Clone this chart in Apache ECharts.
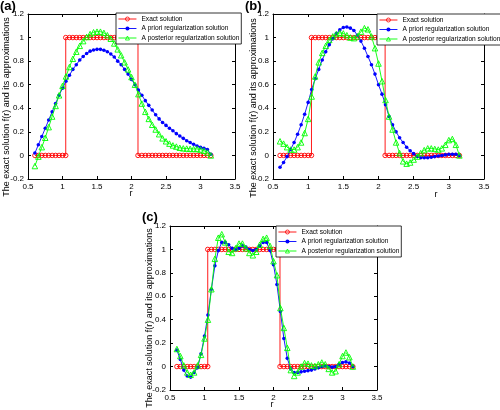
<!DOCTYPE html>
<html>
<head>
<meta charset="utf-8">
<script src="https://cdn.jsdelivr.net/npm/echarts/dist/echarts.min.js"></script>
<style>
html,body{margin:0;padding:0;background:#fff;}
#chart{width:500px;height:410px;}
</style>
</head>
<body>
<div id="chart"></div>
<script>
// ---------- data ----------
const r = [0.60,0.65,0.70,0.75,0.80,0.85,0.90,0.95,1.00,1.05,
           1.10,1.15,1.20,1.25,1.30,1.35,1.40,1.45,1.50,1.55,
           1.60,1.65,1.70,1.75,1.80,1.85,1.90,1.95,2.00,2.05,
           2.10,2.15,2.20,2.25,2.30,2.35,2.40,2.45,2.50,2.55,
           2.60,2.65,2.70,2.75,2.80,2.85,2.90,2.95,3.00,3.05,
           3.10,3.15];

const exactR = [0.60,0.65,0.70,0.75,0.80,0.85,0.90,0.95,1.00,1.047,
                1.047,1.10,1.15,1.20,1.25,1.30,1.35,1.40,1.45,1.50,1.55,
                1.60,1.65,1.70,1.75,1.80,1.85,1.90,1.95,2.00,2.05,2.094,
                2.094,2.15,2.20,2.25,2.30,2.35,2.40,2.45,2.50,2.55,
                2.60,2.65,2.70,2.75,2.80,2.85,2.90,2.95,3.00,3.05,3.10,3.15];
const exactF = [0,0,0,0,0,0,0,0,0,0,
                1,1,1,1,1,1,1,1,1,1,1,
                1,1,1,1,1,1,1,1,1,1,1,
                0,0,0,0,0,0,0,0,0,0,
                0,0,0,0,0,0,0,0,0,0,0,0];

// panel (a)
const prioriA = [0.02,0.09,0.16,0.23,0.30,0.37,0.44,0.51,0.57,0.63,
                 0.68,0.73,0.77,0.81,0.84,0.865,0.885,0.895,0.90,0.90,
                 0.893,0.88,0.86,0.835,0.80,0.77,0.73,0.69,0.645,0.60,
                 0.555,0.51,0.465,0.425,0.385,0.345,0.31,0.28,0.255,0.23,
                 0.21,0.185,0.165,0.145,0.125,0.11,0.095,0.08,0.07,0.06,
                 0.05,0.01];
const posterioriA = [-0.09,-0.01,0.07,0.15,0.24,0.33,0.42,0.51,0.59,0.67,
                     0.75,0.82,0.88,0.93,0.97,1.005,1.03,1.045,1.05,1.05,
                     1.04,1.02,0.99,0.95,0.90,0.85,0.79,0.73,0.665,0.60,
                     0.52,0.44,0.37,0.31,0.26,0.22,0.18,0.145,0.12,0.10,
                     0.085,0.075,0.065,0.06,0.058,0.056,0.055,0.055,0.05,0.04,
                     0.025,0.00];
// panel (b)
const prioriB = [-0.10,-0.06,-0.01,0.05,0.11,0.18,0.26,0.35,0.45,0.56,
                 0.65,0.73,0.81,0.88,0.94,0.99,1.035,1.065,1.085,1.09,
                 1.08,1.06,1.02,0.97,0.91,0.84,0.77,0.69,0.60,0.52,
                 0.43,0.33,0.26,0.20,0.15,0.11,0.07,0.04,0.015,-0.01,
                 -0.02,-0.02,-0.02,-0.015,-0.01,-0.005,0.00,0.005,0.01,0.01,
                 0.01,0.00];
const posterioriB = [0.12,0.10,0.07,0.05,0.05,0.07,0.11,0.19,0.31,0.50,
                     0.67,0.79,0.87,0.93,0.98,1.01,1.03,1.04,1.035,1.02,
                     1.00,0.995,1.01,1.05,1.08,1.07,1.01,0.91,0.78,0.63,
                     0.47,0.33,0.22,0.11,0.02,-0.05,-0.07,-0.06,-0.035,-0.01,
                     0.02,0.045,0.06,0.06,0.055,0.05,0.06,0.09,0.13,0.14,
                     0.09,0.00];
// panel (c)
const prioriC = [0.14,0.06,-0.03,-0.08,-0.09,-0.05,-0.01,0.11,0.26,0.44,
                 0.66,0.86,0.99,1.06,1.06,1.04,1.01,1.00,1.01,1.03,
                 1.02,1.00,0.99,1.00,1.03,1.06,1.06,0.99,0.87,0.70,
                 0.47,0.24,0.07,-0.02,-0.05,-0.05,-0.045,-0.04,-0.035,-0.03,
                 -0.02,-0.01,0.00,0.005,0.00,-0.005,0.00,0.02,0.035,0.04,
                 0.03,0.00];
const posterioriC = [0.15,0.09,0.01,-0.05,-0.07,-0.05,0.01,0.10,0.24,0.40,
                     0.66,0.92,1.10,1.13,1.06,0.98,0.97,1.01,1.05,1.05,
                     1.01,0.97,0.95,0.98,1.04,1.09,1.10,1.03,0.90,0.78,
                     0.50,0.33,0.16,-0.03,-0.08,-0.05,0.00,0.03,0.025,0.01,
                     0.005,0.02,0.035,0.02,-0.02,-0.05,-0.04,0.02,0.09,0.12,
                     0.08,0.00];

const xTicks = [0.5,1,1.5,2,2.5,3,3.5];
const yTicks = [-0.2,0,0.2,0.4,0.6,0.8,1,1.2];
const seriesNames = ['Exact solution','A priori regularization solution','A posterior regularization solution'];
const panelLabels = ['(a)','(b)','(c)'];
const yTitle = 'The exact solution f(r) and its approximations';
const xTitle = 'r';

// ---------- layout ----------
const FONT = '"Liberation Sans", Arial, sans-serif';
const panels = [
  {grid:{left:28, top:14, width:207, height:165}, prio:prioriA, post:posterioriA,
   legend:{left:116, top:13}, label:{left:0, top:0}, ytitle:[7,107], xtitle:[131,194]},
  {grid:{left:273, top:14, width:211, height:165}, prio:prioriB, post:posterioriB,
   legend:{left:377, top:14}, label:{left:245, top:0}, ytitle:[254,108], xtitle:[436,195]},
  {grid:{left:170, top:226, width:207, height:164}, prio:prioriC, post:posterioriC,
   legend:{left:276, top:226}, label:{left:142, top:211}, ytitle:[150,318], xtitle:[272,405]}
];

const fmt = v => String(+v.toFixed(1));
const axisCommon = {
  axisLine:{show:true, onZero:false, lineStyle:{color:'#000', width:1}},
  axisTick:{show:true, inside:true, length:3, lineStyle:{color:'#000', width:1}},
  splitLine:{show:false}
};
const grids=[], xAxes=[], yAxes=[], series=[], legends=[], graphics=[];
const pair = (xs, ys) => xs.map((x,i)=>[x, ys[i]]);

panels.forEach((p, k) => {
  grids.push(Object.assign({containLabel:false}, p.grid));
  const xb = {
    type:'value', gridIndex:k, position:'bottom',
    min:xTicks[0], max:xTicks[xTicks.length-1], interval:xTicks[1]-xTicks[0],
    axisLabel:{show:true, color:'#000', fontSize:8, fontFamily:FONT, margin:4, formatter:fmt}
  };
  const yb = {
    type:'value', gridIndex:k, position:'left',
    min:yTicks[0], max:yTicks[yTicks.length-1], interval:+(yTicks[1]-yTicks[0]).toFixed(1),
    axisLabel:{show:true, color:'#000', fontSize:8, fontFamily:FONT, margin:4, formatter:fmt}
  };
  xAxes.push(Object.assign({}, axisCommon, xb));
  xAxes.push(Object.assign({}, axisCommon, xb, {position:'top', axisLabel:{show:false}}));
  yAxes.push(Object.assign({}, axisCommon, yb));
  yAxes.push(Object.assign({}, axisCommon, yb, {position:'right', axisLabel:{show:false}}));
  const xi = 2*k, yi = 2*k;
  series.push({
    name:seriesNames[0], type:'line', xAxisIndex:xi, yAxisIndex:yi,
    data:pair(exactR, exactF), symbol:'circle', symbolSize:4.5,
    itemStyle:{color:'rgba(255,255,255,0)', borderColor:'#ff0000', borderWidth:0.9},
    lineStyle:{color:'#ff0000', width:0.9}, animation:false, z:2
  });
  series.push({
    name:seriesNames[1], type:'line', xAxisIndex:xi, yAxisIndex:yi,
    data:pair(r, p.prio), symbol:'circle', symbolSize:3.6,
    itemStyle:{color:'#0000ff', borderWidth:0},
    lineStyle:{color:'#0000ff', width:0.9}, animation:false, z:3
  });
  series.push({
    name:seriesNames[2], type:'line', xAxisIndex:xi, yAxisIndex:yi,
    data:pair(r, p.post), symbol:'triangle', symbolSize:5.5,
    itemStyle:{color:'rgba(255,255,255,0)', borderColor:'#00ff00', borderWidth:0.9},
    lineStyle:{color:'#00ff00', width:0.9}, animation:false, z:4
  });
  legends.push({
    data:seriesNames, orient:'vertical', left:p.legend.left, top:p.legend.top,
    backgroundColor:'#fff', borderColor:'#000', borderWidth:0.8,
    padding:[2,2,2,2], itemGap:1.5, itemWidth:18, itemHeight:5,
    selectedMode:false, z:10,
    itemStyle:{borderWidth:0.8},
    lineStyle:{width:0.9},
    textStyle:{color:'#000', fontSize:6.6, fontFamily:FONT, lineHeight:8}
  });
  graphics.push({type:'text', left:p.label.left, top:p.label.top,
    style:{text:panelLabels[k], font:'bold 13px ' + FONT, fill:'#000'}});
  graphics.push({type:'text', x:p.ytitle[0], y:p.ytitle[1], rotation:Math.PI/2,
    style:{text:yTitle, font:'9px ' + FONT, fill:'#000', align:'center', verticalAlign:'middle',
           textAlign:'center', textVerticalAlign:'middle'}});
  graphics.push({type:'text', x:p.xtitle[0], y:p.xtitle[1],
    style:{text:xTitle, font:'9px ' + FONT, fill:'#000', align:'center', verticalAlign:'middle',
           textAlign:'center', textVerticalAlign:'middle'}});
});

const chart = echarts.init(document.getElementById('chart'), null, {renderer:'canvas'});
chart.setOption({
  backgroundColor:'#fff',
  animation:false,
  grid:grids, xAxis:xAxes, yAxis:yAxes, series:series,
  legend:legends, graphic:graphics
});
</script>
</body>
</html>
